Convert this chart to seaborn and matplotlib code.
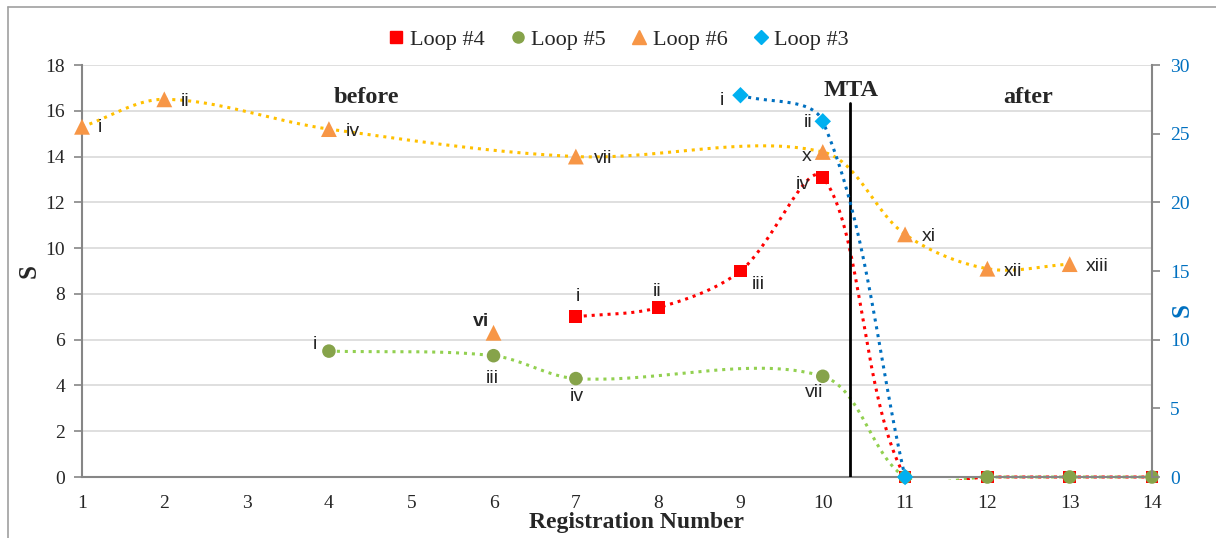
import numpy as np
import pandas as pd
import seaborn as sns
import matplotlib.pyplot as plt
from matplotlib.lines import Line2D
from matplotlib.patches import Rectangle

# values
loop4_x = [7, 8, 9, 10, 11, 12, 13, 14]
loop4_y = [7.0, 7.4, 9.0, 13.1, 0, 0, 0, 0]
loop4_lbl = ["i", "ii", "iii", "iv"]

loop5_x = [4, 6, 7, 10, 11, 12, 13, 14]
loop5_y = [5.5, 5.3, 4.3, 4.4, 0, 0, 0, 0]
loop5_lbl = ["i", "iii", "iv", "vii"]

loop6_x = [1, 2, 4, 7, 10, 11, 12, 13]
loop6_y = [15.3, 16.5, 15.2, 14.0, 14.2, 10.6, 9.1, 9.3]
loop6_lbl = ["i", "ii", "iv", "vii", "x", "xi", "xii", "xiii"]
loop6_vi_x = [6]
loop6_vi_y = [6.3]

loop3_x = [9, 10, 11]
loop3_y = [27.8, 25.9, 0]  # right axis
loop3_lbl = ["i", "ii"]

MTA_X = 10.33

C_RED = "#FF0000"
C_GREEN_LINE = "#92D050"
C_GREEN_MK = "#86A34A"
C_ORANGE_LINE = "#FFC000"
C_ORANGE_MK = "#F79646"
C_BLUE_LINE = "#0070C0"
C_BLUE_MK = "#00B0F0"
C_AXIS = "#868686"

# pixels per data unit, used so the smoothing behaves like it does on screen
PX_X = 1070 / 13
PX_Y_LEFT = 412 / 18
PX_Y_RIGHT = 412 / 30


def smooth(xs, ys, sy, n=40):
    """Excel-like smoothed line: Bezier segments whose handles scale with segment length."""
    p = np.column_stack([np.asarray(xs, float) * PX_X, np.asarray(ys, float) * sy])
    pts = np.vstack([p[0], p, p[-1]])
    t = np.linspace(0, 1, n)[:, None]
    out = []
    for i in range(1, len(pts) - 2):
        p0, p1, p2, p3 = pts[i - 1], pts[i], pts[i + 1], pts[i + 2]
        d01 = np.hypot(*(p1 - p0))
        d12 = np.hypot(*(p2 - p1))
        d23 = np.hypot(*(p3 - p2))
        c1 = p1 + (p2 - p0) * d12 / (3 * (d01 + d12))
        c2 = p2 - (p3 - p1) * d12 / (3 * (d12 + d23))
        out.append((1 - t) ** 3 * p1 + 3 * (1 - t) ** 2 * t * c1 + 3 * (1 - t) * t ** 2 * c2 + t ** 3 * p2)
    out = np.vstack(out)
    return pd.DataFrame({"x": out[:, 0] / PX_X, "y": out[:, 1] / sy})


def clip_lines(a):
    # let lines lying on y=0 show fully, like the plot area in the original
    box = Rectangle((0, -0.008), 1, 1.016, transform=a.transAxes, visible=False)
    a.add_patch(box)
    for ln in a.lines:
        ln.set_clip_path(box)


sns.set_style("white")
plt.rcParams["font.family"] = ["Liberation Serif", "DejaVu Serif"]

fig = plt.figure(figsize=(12.16, 5.38), dpi=100)
ax = fig.add_axes([82 / 1216, 61 / 538, 1070 / 1216, 412 / 538])
ax2 = ax.twinx()

# chart border
fig.add_artist(Line2D([8 / 1216, 8 / 1216], [0, 531 / 538], color="#A0A0A0", lw=1.2, transform=fig.transFigure))
fig.add_artist(Line2D([8 / 1216, 1], [531 / 538, 531 / 538], color="#A0A0A0", lw=1.2, transform=fig.transFigure))

dot = dict(linestyle=(0, (1, 1.6)), linewidth=2.2, legend=False, sort=False, estimator=None)

sns.lineplot(data=smooth(loop6_x, loop6_y, PX_Y_LEFT), x="x", y="y", ax=ax, color=C_ORANGE_LINE, zorder=2, **dot)
sns.lineplot(data=smooth(loop5_x, loop5_y, PX_Y_LEFT), x="x", y="y", ax=ax, color=C_GREEN_LINE, zorder=2, **dot)
sns.lineplot(data=smooth(loop4_x, loop4_y, PX_Y_LEFT), x="x", y="y", ax=ax, color=C_RED, zorder=2.1, **dot)
clip_lines(ax)

ax.axvline(MTA_X, ymin=0, ymax=16.35 / 18, color="black", lw=2, zorder=3)

sns.scatterplot(x=loop4_x, y=loop4_y, ax=ax, marker="s", s=85, color=C_RED, edgecolor="none",
                zorder=4, clip_on=False)
sns.scatterplot(x=loop5_x, y=loop5_y, ax=ax, marker="o", s=95, color=C_GREEN_MK, edgecolor="none",
                zorder=5, clip_on=False)
sns.scatterplot(x=loop6_x + loop6_vi_x, y=loop6_y + loop6_vi_y, ax=ax, marker="^", s=130,
                color=C_ORANGE_MK, edgecolor="none", zorder=4, clip_on=False)

sns.lineplot(data=smooth(loop3_x, loop3_y, PX_Y_RIGHT), x="x", y="y", ax=ax2, color=C_BLUE_LINE, zorder=2, **dot)
clip_lines(ax2)
sns.scatterplot(x=loop3_x, y=loop3_y, ax=ax2, marker="D", s=70, color=C_BLUE_MK, edgecolor="none",
                zorder=6, clip_on=False)

# axes
ax.set_xlim(1, 14)
ax.set_ylim(0, 18)
ax2.set_ylim(0, 30)
ax.set_xticks(range(1, 15))
ax.set_yticks(range(0, 19, 2))
ax2.set_yticks(range(0, 31, 5))
ax.yaxis.grid(True, color="#D9D9D9", lw=1.2)
ax.set_axisbelow(True)
for a in (ax, ax2):
    for s in a.spines.values():
        s.set_visible(False)
ax.spines["left"].set_visible(True)
ax.spines["bottom"].set_visible(True)
ax2.spines["right"].set_visible(True)
for s in (ax.spines["left"], ax.spines["bottom"], ax2.spines["right"]):
    s.set_color(C_AXIS)
    s.set_linewidth(1.5)
ax.tick_params(axis="y", direction="out", length=6, width=1.2, color=C_AXIS, labelsize=14, pad=6)
ax.tick_params(axis="x", direction="out", length=5, width=1.2, color=C_AXIS, labelsize=14, pad=8)
ax2.tick_params(axis="y", direction="out", length=6, width=1.2, color=C_AXIS, labelsize=14,
                labelcolor=C_BLUE_LINE, pad=7)
ax.set_xlabel("Registration Number", fontsize=17, fontweight="bold")
ax.xaxis.set_label_coords(0.518, -0.085)
ax.set_ylabel("S", fontsize=18, fontweight="bold")
ax.yaxis.set_label_coords(-0.039, 0.50)
ax2.set_ylabel("S", fontsize=18, fontweight="bold", color=C_BLUE_LINE, rotation=90)
ax2.yaxis.set_label_coords(1.017, 0.405)

# point labels
sans = dict(family=["Liberation Sans", "DejaVu Sans"], fontsize=14, ha="center", va="center")
lbl_pos = [
    (loop6_lbl, [(1.22, 15.25), (2.25, 16.4), (4.29, 15.1), (7.33, 13.9), (9.8, 14.0),
                 (11.29, 10.5), (12.31, 9.0), (13.33, 9.2)]),
    (loop4_lbl, [(7.03, 7.9), (7.99, 8.1), (9.22, 8.4), (9.76, 12.8)]),
    (loop5_lbl, [(3.83, 5.8), (5.99, 4.3), (7.01, 3.5), (9.9, 3.67)]),
    (loop3_lbl, [(8.78, 16.47), (9.82, 15.5)]),
]
for labels, pos in lbl_pos:
    for t, (x, y) in zip(labels, pos):
        ax.text(x, y, t, **sans)
ax.text(5.85, 6.8, "vi", fontweight="bold", **sans)

ax.text(4.45, 16.6, "before", fontsize=17.5, fontweight="bold", ha="center", va="center")
ax.text(12.5, 16.6, "after", fontsize=17.5, fontweight="bold", ha="center", va="center")
ax.text(10.34, 16.9, "MTA", fontsize=17.5, fontweight="bold", ha="center", va="center")

handles = [
    Line2D([], [], marker="s", color=C_RED, ls="none", markersize=8),
    Line2D([], [], marker="o", color=C_GREEN_MK, ls="none", markersize=8),
    Line2D([], [], marker="^", color=C_ORANGE_MK, ls="none", markersize=10),
    Line2D([], [], marker="D", color=C_BLUE_MK, ls="none", markersize=7),
]
fig.legend(handles, ["Loop #4", "Loop #5", "Loop #6", "Loop #3"], loc="center",
           bbox_to_anchor=(617 / 1216, 1 - 40 / 538), ncol=4, frameon=False, fontsize=16,
           handletextpad=0.1, columnspacing=1.0, handlelength=1.0)

fig.savefig("out.png", dpi=100)
